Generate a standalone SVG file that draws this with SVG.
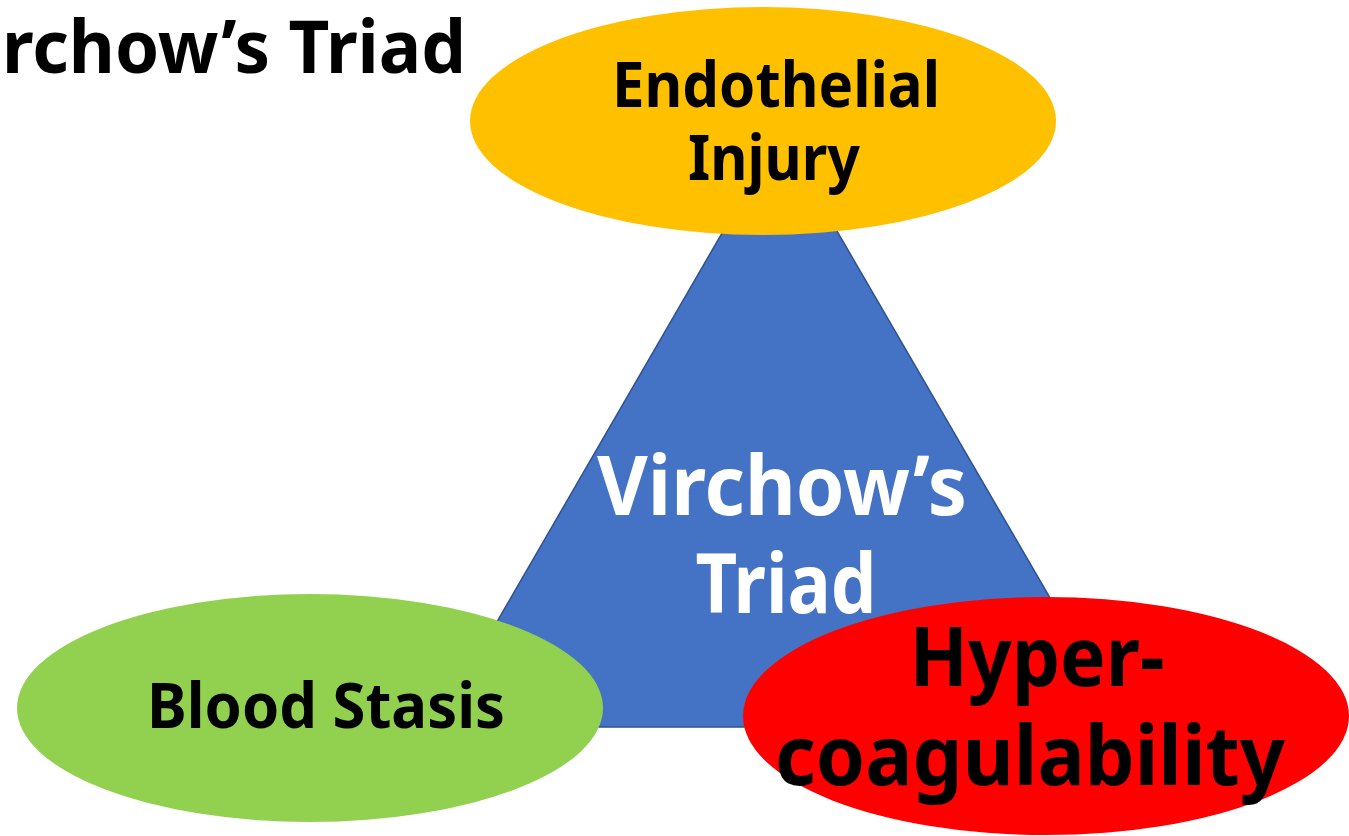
<svg xmlns="http://www.w3.org/2000/svg" width="1349" height="836" viewBox="0 0 1349 836">
<style>
.t{font-family:"Noto Sans","Open Sans","Liberation Sans",sans-serif;font-weight:bold;text-anchor:middle;fill:#000}
.w{fill:#fff}
</style>
<rect width="1349" height="836" fill="#fff"/>
<text class="t" x="2" y="73" font-size="73" style="text-anchor:start" textLength="464" lengthAdjust="spacingAndGlyphs">rchow’s Triad</text>
<g id="triangle">
<polygon points="780,133 1125,727 436,727" fill="#4472C4" stroke="#2F528F" stroke-width="1.5"/>
<text class="t w" x="782" y="515" font-size="82" textLength="370" lengthAdjust="spacingAndGlyphs">Virchow’s</text>
<text class="t w" x="786" y="613" font-size="82" textLength="181" lengthAdjust="spacingAndGlyphs">Triad</text>
</g>
<g id="endothelial">
<ellipse cx="763" cy="121" rx="293" ry="114" fill="#FFC000"/>
<text class="t" x="776" y="107" font-size="63" textLength="328" lengthAdjust="spacingAndGlyphs">Endothelial</text>
<text class="t" x="774" y="180" font-size="63" textLength="172" lengthAdjust="spacingAndGlyphs">Injury</text>
</g>
<g id="stasis">
<ellipse cx="310" cy="708" rx="293" ry="114" fill="#92D050"/>
<text class="t" x="326" y="728" font-size="63" textLength="358" lengthAdjust="spacingAndGlyphs">Blood Stasis</text>
</g>
<g id="hyper">
<ellipse cx="1046" cy="716" rx="303" ry="119" fill="#FF0000"/>
<text class="t" x="1037" y="686" font-size="82" textLength="255" lengthAdjust="spacingAndGlyphs">Hyper-</text>
<text class="t" x="1030" y="785" font-size="82" textLength="510" lengthAdjust="spacingAndGlyphs">coagulability</text>
</g>
<g id="connectors"></g>
</svg>
